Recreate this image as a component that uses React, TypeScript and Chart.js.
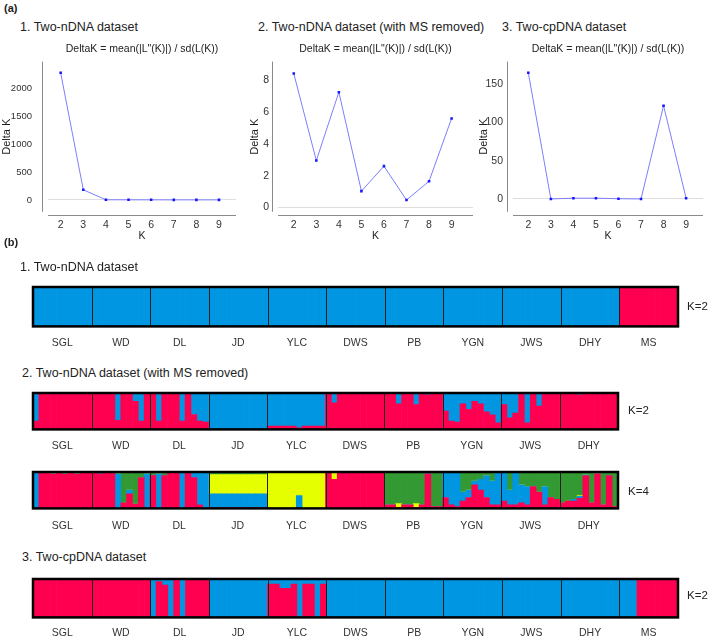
import React, { useEffect, useRef } from 'react';
import { Chart, registerables } from 'chart.js';

Chart.register(...registerables);

const FONT = "'Liberation Sans', Arial, Helvetica, sans-serif";

// ---------------- (a) Delta K ----------------
const kValues = [2, 3, 4, 5, 6, 7, 8, 9];
const deltaK_nDNA = [2271, 181, 3, 2, 2, 1, 1, 1];
const deltaK_nDNA_noMS = [8.42, 2.95, 7.25, 1.03, 2.6, 0.47, 1.65, 5.6];
const deltaK_cpDNA = [165, 0, 1, 1, 0.3, 0, 122, 1];
const yTicks_nDNA = [0, 500, 1000, 1500, 2000];
const yTicks_nDNA_noMS = [0, 2, 4, 6, 8];
const yTicks_cpDNA = [0, 50, 100, 150];
const deltaKTitle = 'DeltaK = mean(|L"(K)|) / sd(L(K))';

// ---------------- (b) STRUCTURE bar plots ----------------
const popsAll = ['SGL', 'WD', 'DL', 'JD', 'YLC', 'DWS', 'PB', 'YGN', 'JWS', 'DHY', 'MS'];
const popsNoMS = ['SGL', 'WD', 'DL', 'JD', 'YLC', 'DWS', 'PB', 'YGN', 'JWS', 'DHY'];

const C_RED = '#ff0050';
const C_BLUE = '#0096e1';
const C_GREEN = '#339933';
const C_YELLOW = '#e6ff00';

// 1. Two-nDNA dataset, K=2 (10 individuals per population)
const nDNA_K2_red = [
  0, 0, 0, 0, 0, 0, 0, 0, 0, 0,
  0, 0, 0, 0, 0, 0, 0, 0, 0, 0,
  0, 0, 0, 0, 0, 0, 0, 0, 0, 0,
  0, 0, 0, 0, 0, 0, 0, 0, 0, 0,
  0, 0, 0, 0, 0, 0, 0, 0, 0, 0,
  0, 0, 0, 0, 0, 0, 0, 0, 0, 0,
  0, 0, 0, 0, 0, 0, 0, 0, 0, 0,
  0, 0, 0, 0, 0, 0, 0, 0, 0, 0,
  0, 0, 0, 0, 0, 0, 0, 0, 0, 0,
  0, 0, 0, 0, 0, 0, 0, 0, 0, 0,
  1, 1, 1, 1, 1, 1, 1, 1, 1, 1,
];
const nDNA_K2_blue = [
  1, 1, 1, 1, 1, 1, 1, 1, 1, 1,
  1, 1, 1, 1, 1, 1, 1, 1, 1, 1,
  1, 1, 1, 1, 1, 1, 1, 1, 1, 1,
  1, 1, 1, 1, 1, 1, 1, 1, 1, 1,
  1, 1, 1, 1, 1, 1, 1, 1, 1, 1,
  1, 1, 1, 1, 1, 1, 1, 1, 1, 1,
  1, 1, 1, 1, 1, 1, 1, 1, 1, 1,
  1, 1, 1, 1, 1, 1, 1, 1, 1, 1,
  1, 1, 1, 1, 1, 1, 1, 1, 1, 1,
  1, 1, 1, 1, 1, 1, 1, 1, 1, 1,
  0, 0, 0, 0, 0, 0, 0, 0, 0, 0,
];

// 2. Two-nDNA dataset (MS removed), K=2
const noMS_K2_red = [
  0.23, 1, 1, 1, 1, 1, 1, 1, 1, 1,
  0.98, 1, 1, 0.97, 0.25, 1, 1, 0.77, 0.23, 1,
  1, 0.23, 1, 1, 1, 0.23, 1, 0.41, 0.23, 0.2,
  0, 0, 0, 0, 0, 0, 0, 0, 0, 0,
  0.09, 0.09, 0.09, 0.09, 0.09, 0.04, 0.09, 0.09, 0.09, 0.09,
  1, 0.73, 1, 1, 0.98, 1, 1, 1, 1, 1,
  1, 1, 0.7, 1, 1, 0.68, 1, 0.95, 1, 1,
  0.5, 0.23, 0.2, 0.7, 0.55, 0.77, 0.7, 0.48, 0.4, 0.18,
  0.68, 0.32, 0.45, 1, 0.18, 1, 0.64, 1, 1, 1,
  1, 1, 1, 0.95, 1, 1, 1, 1, 1, 1,
];
const noMS_K2_blue = [
  0.77, 0, 0, 0, 0, 0, 0, 0, 0, 0,
  0.02, 0, 0, 0.03, 0.75, 0, 0, 0.23, 0.77, 0,
  0, 0.77, 0, 0, 0, 0.77, 0, 0.59, 0.77, 0.8,
  1, 1, 1, 1, 1, 1, 1, 1, 1, 1,
  0.91, 0.91, 0.91, 0.91, 0.91, 0.96, 0.91, 0.91, 0.91, 0.91,
  0, 0.27, 0, 0, 0.02, 0, 0, 0, 0, 0,
  0, 0, 0.3, 0, 0, 0.32, 0, 0.05, 0, 0,
  0.5, 0.77, 0.8, 0.3, 0.45, 0.23, 0.3, 0.52, 0.6, 0.82,
  0.32, 0.68, 0.55, 0, 0.82, 0, 0.36, 0, 0, 0,
  0, 0, 0, 0.05, 0, 0, 0, 0, 0, 0,
];

// 2. Two-nDNA dataset (MS removed), K=4
const noMS_K4_red = [
  0, 1, 1, 0.94, 1, 0.94, 1, 0.94, 1, 1,
  1, 0.95, 1, 1, 0, 0.15, 0.4, 0.12, 0.85, 0,
  0.9, 0, 0.9, 1, 1, 0, 1, 0.85, 0.1, 0,
  0.02, 0.02, 0.02, 0.02, 0.02, 0.02, 0.02, 0.02, 0.02, 0.02,
  0, 0, 0, 0, 0, 0, 0, 0, 0, 0,
  1, 0.8, 1, 1, 0.98, 1, 1, 1, 1, 1,
  0.1, 0.1, 0.03, 0.1, 0.1, 0.03, 0.1, 0.95, 0.05, 0.05,
  0.3, 0.1, 0.05, 0.2, 0.3, 0.65, 0.5, 0.3, 0.1, 0.1,
  0.2, 0.1, 0.1, 0.15, 0.1, 0.6, 0.45, 0.1, 0.3, 0.25,
  0.15, 0.2, 0.2, 0.28, 0.9, 0.15, 0.95, 0.1, 0.9, 0.05,
];
const noMS_K4_blue = [
  1, 0, 0, 0, 0, 0, 0, 0, 0, 0,
  0, 0.05, 0, 0, 0.95, 0, 0.1, 0, 0, 0.95,
  0, 0.95, 0, 0, 0, 1, 0, 0.15, 0.9, 1,
  0.38, 0.38, 0.38, 0.38, 0.38, 0.38, 0.38, 0.38, 0.38, 0.38,
  0, 0, 0, 0, 0, 0.35, 0, 0, 0, 0,
  0, 0, 0, 0, 0, 0, 0, 0, 0, 0,
  0, 0, 0, 0, 0, 0, 0, 0.02, 0, 0,
  0.7, 0.9, 0.95, 0.25, 0.2, 0.1, 0.3, 0.6, 0.65, 0.9,
  0.8, 0.4, 0.9, 0.5, 0.5, 0, 0, 0.5, 0, 0,
  0, 0, 0.05, 0.05, 0.02, 0, 0, 0, 0, 0,
];
const noMS_K4_yellow = [
  0, 0, 0, 0, 0, 0, 0, 0, 0, 0,
  0, 0, 0, 0, 0, 0, 0, 0, 0, 0,
  0, 0, 0, 0, 0, 0, 0, 0, 0, 0,
  0.53, 0.53, 0.53, 0.53, 0.53, 0.53, 0.53, 0.53, 0.53, 0.53,
  1, 1, 1, 1, 1, 0.65, 1, 1, 1, 1,
  0, 0.2, 0, 0, 0, 0, 0, 0, 0, 0,
  0, 0, 0.1, 0, 0, 0.1, 0, 0, 0, 0,
  0, 0, 0, 0, 0, 0, 0, 0, 0, 0,
  0, 0, 0, 0, 0, 0, 0, 0, 0, 0,
  0, 0, 0, 0.02, 0, 0, 0, 0, 0, 0,
];
const noMS_K4_green = [
  0, 0, 0, 0.06, 0, 0.06, 0, 0.06, 0, 0,
  0, 0, 0, 0, 0.05, 0.85, 0.5, 0.88, 0.15, 0.05,
  0.1, 0.05, 0.1, 0, 0, 0, 0, 0, 0, 0,
  0.07, 0.07, 0.07, 0.07, 0.07, 0.07, 0.07, 0.07, 0.07, 0.07,
  0, 0, 0, 0, 0, 0, 0, 0, 0, 0,
  0, 0, 0, 0, 0.02, 0, 0, 0, 0, 0,
  0.9, 0.9, 0.87, 0.9, 0.9, 0.87, 0.9, 0.03, 0.95, 0.95,
  0, 0, 0, 0.55, 0.5, 0.25, 0.2, 0.1, 0.25, 0,
  0, 0.5, 0, 0.35, 0.4, 0.4, 0.55, 0.4, 0.7, 0.75,
  0.85, 0.8, 0.75, 0.65, 0.08, 0.85, 0.05, 0.9, 0.1, 0.95,
];

// 3. Two-cpDNA dataset, K=2
const cpDNA_K2_red = [
  1, 1, 1, 1, 1, 1, 1, 1, 1, 1,
  1, 1, 1, 1, 1, 1, 1, 1, 1, 1,
  0, 0.93, 0.84, 0, 0.97, 0, 1, 1, 1, 1,
  0, 0, 0, 0, 0, 0, 0, 0, 0, 0,
  0.87, 0.87, 0.76, 0.76, 0.87, 0, 0.87, 0.87, 0, 0.87,
  0, 0, 0, 0, 0, 0, 0, 0, 0, 0,
  0, 0, 0, 0, 0, 0, 0, 0, 0, 0,
  0, 0, 0, 0, 0, 0, 0, 0, 0, 0,
  0, 0, 0, 0, 0, 0, 0, 0, 0, 0,
  0, 0, 0, 0, 0, 0, 0, 0, 0, 0,
  0, 0, 0, 1, 1, 1, 1, 1, 1, 1,
];
const cpDNA_K2_blue = [
  0, 0, 0, 0, 0, 0, 0, 0, 0, 0,
  0, 0, 0, 0, 0, 0, 0, 0, 0, 0,
  1, 0.07, 0.16, 1, 0.03, 1, 0, 0, 0, 0,
  1, 1, 1, 1, 1, 1, 1, 1, 1, 1,
  0.13, 0.13, 0.24, 0.24, 0.13, 1, 0.13, 0.13, 1, 0.13,
  1, 1, 1, 1, 1, 1, 1, 1, 1, 1,
  1, 1, 1, 1, 1, 1, 1, 1, 1, 1,
  1, 1, 1, 1, 1, 1, 1, 1, 1, 1,
  1, 1, 1, 1, 1, 1, 1, 1, 1, 1,
  1, 1, 1, 1, 1, 1, 1, 1, 1, 1,
  1, 1, 1, 0, 0, 0, 0, 0, 0, 0,
];

// ---------------- plugins ----------------
const axisLines = {
  id: 'axisLines',
  afterDraw(chart: any) {
    const { ctx, chartArea: a } = chart;
    ctx.save();
    ctx.strokeStyle = '#8a8a8a';
    ctx.lineWidth = 1;
    ctx.beginPath();
    const lx = Math.round(a.left - 6) + 0.5;
    ctx.moveTo(lx, a.top);
    ctx.lineTo(lx, a.bottom);
    const by = Math.round(a.bottom + 3) + 0.5;
    ctx.moveTo(a.left, by);
    ctx.lineTo(a.right, by);
    ctx.stroke();
    ctx.restore();
  },
};

const structureFrame = {
  id: 'structureFrame',
  afterDatasetsDraw(chart: any, _args: any, opts: any) {
    const { ctx, chartArea: a } = chart;
    const x = chart.scales.x;
    const n = chart.data.labels.length;
    const groups = opts.groups;
    const size = n / groups;
    ctx.save();
    ctx.strokeStyle = '#1e1e1e';
    ctx.lineWidth = 1;
    ctx.beginPath();
    for (let g = 1; g < groups; g++) {
      const px = Math.round((x.getPixelForValue(g * size - 1) + x.getPixelForValue(g * size)) / 2) + 0.5;
      ctx.moveTo(px, a.top);
      ctx.lineTo(px, a.bottom);
    }
    ctx.stroke();
    ctx.lineWidth = 2.5;
    ctx.strokeStyle = '#000';
    ctx.strokeRect(a.left, a.top, a.right - a.left, a.bottom - a.top);
    ctx.restore();
  },
};

// ---------------- components ----------------
function ChartCanvas(props: { left: number; top: number; width: number; height: number; make: () => any }) {
  const ref = useRef<HTMLCanvasElement>(null);
  useEffect(() => {
    const chart = new Chart(ref.current as HTMLCanvasElement, props.make());
    return () => chart.destroy();
  }, []);
  return (
    <canvas
      ref={ref}
      width={props.width}
      height={props.height}
      style={{ position: 'absolute', left: props.left, top: props.top, width: props.width, height: props.height }}
    />
  );
}

function deltaKConfig(o: {
  values: number[];
  yTicks: number[];
  yMin: number;
  yMax: number;
  xMin: number;
  xMax: number;
  axisWidth: number;
  labelPad: number;
  padRight: number;
  tickSize: number;
}) {
  return {
    type: 'line',
    data: {
      datasets: [
        {
          data: kValues.map((k, i) => ({ x: k, y: o.values[i] })),
          borderColor: '#7d7dff',
          borderWidth: 1,
          pointBackgroundColor: '#1414ff',
          pointBorderWidth: 0,
          pointRadius: 1.8,
          pointStyle: 'rect',
          tension: 0,
        },
      ],
    },
    options: {
      responsive: false,
      animation: false,
      layout: { padding: { left: 0, right: o.padRight, top: 0, bottom: 4 } },
      plugins: {
        legend: { display: false },
        tooltip: { enabled: false },
        title: {
          display: true,
          text: deltaKTitle,
          fullSize: false,
          color: '#222',
          font: { family: FONT, size: 10.5, weight: 'normal' },
          padding: { top: 7, bottom: 6 },
        },
      },
      scales: {
        x: {
          type: 'linear',
          min: o.xMin,
          max: o.xMax,
          afterBuildTicks: (s: any) => {
            s.ticks = kValues.map((v) => ({ value: v }));
          },
          grid: { display: false, drawTicks: false },
          border: { display: false },
          ticks: { color: '#333', font: { family: FONT, size: 10.5 }, padding: 7, callback: (v: any) => String(v) },
          title: { display: true, text: 'K', color: '#222', font: { family: FONT, size: 10.5 }, padding: { top: -9, bottom: 0 } },
        },
        y: {
          type: 'linear',
          min: o.yMin,
          max: o.yMax,
          afterBuildTicks: (s: any) => {
            s.ticks = o.yTicks.map((v) => ({ value: v }));
          },
          afterFit: (s: any) => {
            s.width = o.axisWidth;
          },
          grid: {
            drawTicks: false,
            color: (c: any) => (c.tick && c.tick.value === 0 ? '#dedede' : 'rgba(0,0,0,0)'),
          },
          border: { display: false },
          ticks: { color: '#333', font: { family: FONT, size: o.tickSize }, padding: o.labelPad, callback: (v: any) => String(v) },
          title: { display: true, text: 'Delta K', color: '#222', font: { family: FONT, size: 11 }, padding: 0 },
        },
      },
    },
    plugins: [axisLines],
  };
}

function structureConfig(o: {
  pops: string[];
  series: { values: number[]; color: string }[];
  padTop: number;
  padRight: number;
  labelPad: number;
}) {
  const labels = o.series[0].values.map((_, i) => String(i + 1));
  return {
    type: 'bar',
    data: {
      labels,
      datasets: o.series.map((s) => ({
        data: s.values,
        backgroundColor: s.color,
        borderWidth: 0,
        barPercentage: 1,
        categoryPercentage: 1,
        stack: 'q',
      })),
    },
    options: {
      responsive: false,
      animation: false,
      layout: { padding: { left: 33, right: o.padRight, top: o.padTop, bottom: 0 } },
      plugins: {
        legend: { display: false },
        tooltip: { enabled: false },
        title: { display: false },
        structureFrame: { groups: o.pops.length },
      },
      scales: {
        x: { stacked: true, display: false },
        x2: {
          type: 'category',
          labels: o.pops,
          position: 'bottom',
          offset: true,
          grid: { display: false, drawTicks: false },
          border: { display: false },
          ticks: { color: '#333', font: { family: FONT, size: 10.5 }, padding: o.labelPad, autoSkip: false, maxRotation: 0 },
        },
        y: { stacked: true, min: 0, max: 1, display: false },
      },
    },
    plugins: [structureFrame],
  };
}

function Label(p: { x: number; y: number; text: string; size: number; bold?: boolean }) {
  return (
    <div
      style={{
        position: 'absolute',
        left: p.x,
        top: p.y - p.size * 0.6,
        fontSize: p.size,
        lineHeight: `${p.size * 1.2}px`,
        fontWeight: p.bold ? 'bold' : 'normal',
        whiteSpace: 'nowrap',
        color: '#222',
      }}
    >
      {p.text}
    </div>
  );
}

export default function App() {
  return (
    <div
      style={{
        position: 'absolute',
        left: 0,
        top: 0,
        width: 709,
        height: 641,
        overflow: 'hidden',
        background: '#fff',
        fontFamily: FONT,
      }}
    >
      <Label x={4} y={9} text="(a)" size={11} bold />
      <Label x={20} y={27} text="1. Two-nDNA dataset" size={12.5} />
      <Label x={258} y={27} text="2. Two-nDNA dataset (with MS removed)" size={12.5} />
      <Label x={502} y={27} text="3. Two-cpDNA dataset" size={12.5} />

      <ChartCanvas
        left={0}
        top={36}
        width={240}
        height={210}
        make={() =>
          deltaKConfig({
            values: deltaK_nDNA,
            yTicks: yTicks_nDNA,
            yMin: -212,
            yMax: 2472,
            xMin: 1.44,
            xMax: 9.75,
            axisWidth: 48,
            labelPad: 16,
            padRight: 3,
            tickSize: 9.5,
          })
        }
      />
      <ChartCanvas
        left={248}
        top={36}
        width={229}
        height={210}
        make={() =>
          deltaKConfig({
            values: deltaK_nDNA_noMS,
            yTicks: yTicks_nDNA_noMS,
            yMin: -0.27,
            yMax: 9.17,
            xMin: 1.3,
            xMax: 9.95,
            axisWidth: 30,
            labelPad: 9,
            padRight: 2,
            tickSize: 10.5,
          })
        }
      />
      <ChartCanvas
        left={477}
        top={36}
        width={232}
        height={210}
        make={() =>
          deltaKConfig({
            values: deltaK_cpDNA,
            yTicks: yTicks_cpDNA,
            yMin: -16.8,
            yMax: 179.7,
            xMin: 1.32,
            xMax: 9.75,
            axisWidth: 36,
            labelPad: 10,
            padRight: 6,
            tickSize: 10.5,
          })
        }
      />

      <Label x={4} y={243} text="(b)" size={11} bold />
      <Label x={20} y={267} text="1. Two-nDNA dataset" size={12.5} />
      <ChartCanvas
        left={0}
        top={280}
        width={709}
        height={79}
        make={() =>
          structureConfig({
            pops: popsAll,
            series: [
              { values: nDNA_K2_red, color: C_RED },
              { values: nDNA_K2_blue, color: C_BLUE },
            ],
            padTop: 7,
            padRight: 31,
            labelPad: 10,
          })
        }
      />
      <Label x={687} y={307} text="K=2" size={11.5} />

      <Label x={22} y={373} text="2. Two-nDNA dataset (with MS removed)" size={12.5} />
      <ChartCanvas
        left={0}
        top={386}
        width={709}
        height={76}
        make={() =>
          structureConfig({
            pops: popsNoMS,
            series: [
              { values: noMS_K2_red, color: C_RED },
              { values: noMS_K2_blue, color: C_BLUE },
            ],
            padTop: 7,
            padRight: 91,
            labelPad: 10,
          })
        }
      />
      <Label x={628} y={411} text="K=2" size={11.5} />
      <ChartCanvas
        left={0}
        top={465}
        width={709}
        height={78}
        make={() =>
          structureConfig({
            pops: popsNoMS,
            series: [
              { values: noMS_K4_red, color: C_RED },
              { values: noMS_K4_blue, color: C_BLUE },
              { values: noMS_K4_yellow, color: C_YELLOW },
              { values: noMS_K4_green, color: C_GREEN },
            ],
            padTop: 7,
            padRight: 91,
            labelPad: 11,
          })
        }
      />
      <Label x={628} y={492} text="K=4" size={11.5} />

      <Label x={22} y={557} text="3. Two-cpDNA dataset" size={12.5} />
      <ChartCanvas
        left={0}
        top={572}
        width={709}
        height={76}
        make={() =>
          structureConfig({
            pops: popsAll,
            series: [
              { values: cpDNA_K2_red, color: C_RED },
              { values: cpDNA_K2_blue, color: C_BLUE },
            ],
            padTop: 7,
            padRight: 31,
            labelPad: 9,
          })
        }
      />
      <Label x={687} y={596} text="K=2" size={11.5} />
    </div>
  );
}
